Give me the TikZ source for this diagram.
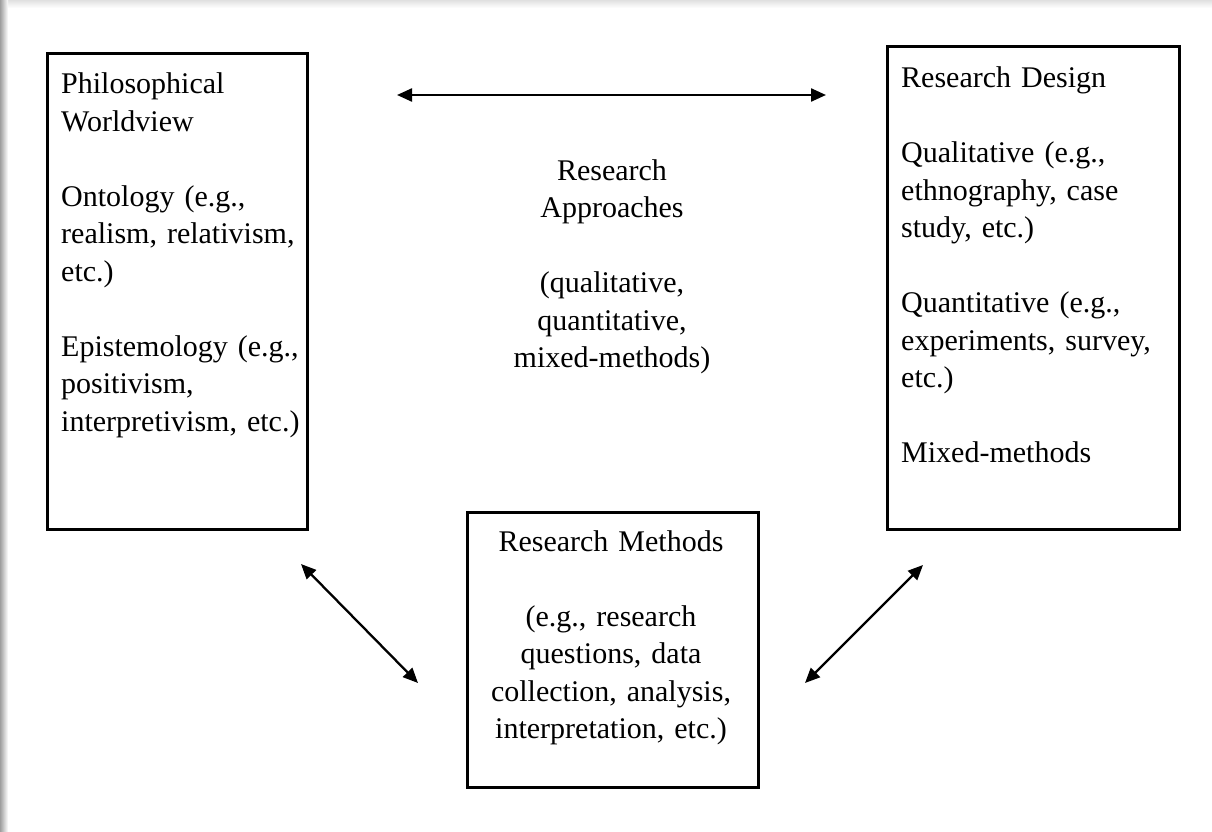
\documentclass[tikz,border=0pt]{standalone}
\usepackage{fontspec}
\setmainfont{Liberation Serif}
\usetikzlibrary{arrows.meta}
\begin{document}
\begin{tikzpicture}[x=1pt,y=-1pt,
  panel/.style={draw=black,line width=2.6pt,inner sep=0pt,anchor=north west},
  body/.style={inner sep=0pt,font=\fontsize{30}{37.5}\selectfont},
  leftbody/.style={body,anchor=base west,align=left,text width=400pt},
  midbody/.style={body,anchor=base,align=center,text width=400pt},
  link/.style={line width=2.3pt,>={Triangle[length=15pt,width=13pt]},<->}]
  \useasboundingbox (0,0) rectangle (1212,832);
  \fill[white] (0,0) rectangle (1212,832);
  % soft edge shading along the top and left borders
  \shade[top color=black!12,bottom color=white] (0,0) rectangle (1212,8);
  \shade[left color=black!38,right color=white] (0,0) rectangle (8,832);

  % boxes
  \node[panel,minimum width=260pt,minimum height=476pt] (world) at (46,52) {};
  \node[panel,minimum width=292pt,minimum height=483pt] (design) at (886,45) {};
  \node[panel,minimum width=291pt,minimum height=275pt] (methods) at (466,511) {};

  % box texts
  \node[leftbody] (worldtxt) at (61,94)
    {Philosophical\\Worldview\\[37.5pt]Ontology (e.g.,\\realism, relativism,\\etc.)\\[37.5pt]Epistemology (e.g.,\\positivism,\\interpretivism, etc.)};
  \node[leftbody] (designtxt) at (901,88)
    {Research Design\\[37.5pt]Qualitative (e.g.,\\ethnography, case\\study, etc.)\\[37.5pt]Quantitative (e.g.,\\experiments, survey,\\etc.)\\[37.5pt]Mixed-methods};
  \node[midbody] (approach) at (612,180)
    {Research\\Approaches\\[37.5pt](qualitative,\\quantitative,\\mixed-methods)};
  \node[midbody] (methodstxt) at (611,551)
    {Research Methods\\[37.5pt](e.g., research\\questions, data\\collection, analysis,\\interpretation, etc.)};

  % connector end points
  \coordinate (topL) at (397,95);
  \coordinate (topR) at (826,95);
  \coordinate (dlA) at (301,564);
  \coordinate (dlB) at (418,683);
  \coordinate (drA) at (923,565);
  \coordinate (drB) at (805,683);

  \draw[link] (topL) -- (topR);
  \draw[link] (dlA) -- (dlB);
  \draw[link] (drA) -- (drB);
\end{tikzpicture}
\end{document}
